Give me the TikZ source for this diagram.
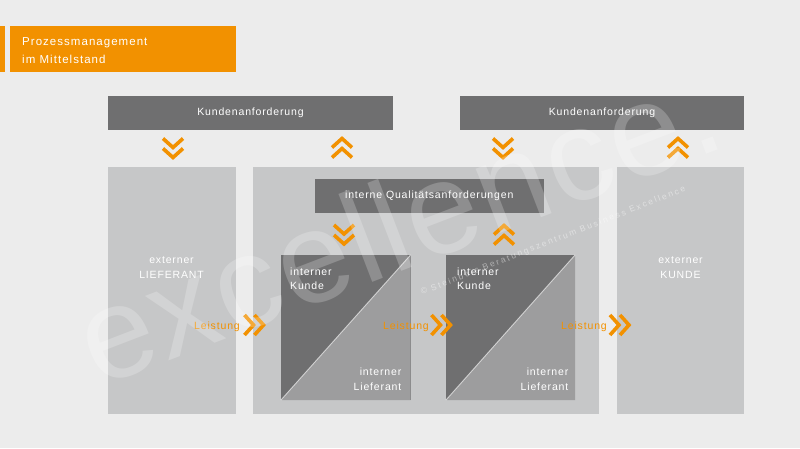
\documentclass[tikz,border=0pt]{standalone}
\usepackage{fontspec}
\setmainfont{Liberation Sans}
\newfontfamily\lblfont{Liberation Sans}[LetterSpace=8]
\newfontfamily\hdrfont{Liberation Sans}[LetterSpace=9]
\newfontfamily\wmfont{Liberation Sans}[LetterSpace=2]
\newfontfamily\cpfont{Liberation Sans}[LetterSpace=24]
\definecolor{bgc}{HTML}{ECECEC}
\definecolor{orng}{HTML}{F29100}
\definecolor{darkbar}{HTML}{6F6F70}
\definecolor{lightcol}{HTML}{C6C7C8}
\definecolor{lighttri}{HTML}{9D9D9E}
\tikzset{
  darkbox/.style={fill=darkbar, draw=none, inner sep=0pt, text=white, font=\lblfont\fontsize{10.5}{12}\selectfont},
  colbox/.style={fill=lightcol, draw=none, inner sep=0pt},
  sqbox/.style={fill=darkbar, draw=none, inner sep=0pt, minimum width=129.5pt, minimum height=145pt},
  lbl/.style={text=white, inner sep=0pt, font=\lblfont\fontsize{10.5}{12}\selectfont},
  leist/.style={text=orng, inner sep=0pt, anchor=base east, font=\lblfont\fontsize{10.5}{12}\selectfont},
  hdr/.style={text=white, inner sep=0pt, anchor=base west, font=\hdrfont\fontsize{11.5}{14}\selectfont},
  chevline/.style={draw=orng, line width=3.6pt, line join=miter, line cap=butt},
  chev/.pic={
    \draw[chevline] (-10,-10) -- (0,-1) -- (10,-10);
    \draw[chevline] (-10,0) -- (0,9) -- (10,0);
  }
}
\begin{document}
\begin{tikzpicture}[x=1pt,y=-1pt]
\useasboundingbox (0,0) rectangle (800,448);
\fill[bgc] (0,0) rectangle (800,448);

% header
\fill[orng] (0,26) rectangle (5,72);
\node[fill=orng, inner sep=0pt, minimum width=226pt, minimum height=46pt] (head) at (123,49) {};
\node[hdr] (h1) at (22,45) {Prozessmanagement};
\node[hdr] (h2) at (22,63) {im Mittelstand};

% top bars
\node[darkbox, minimum width=285pt, minimum height=34pt] (k1) at (250.5,113) {Kundenanforderung};
\node[darkbox, minimum width=284pt, minimum height=34pt] (k2) at (602,113) {Kundenanforderung};

% columns
\node[colbox, minimum width=128pt, minimum height=247pt] (lief) at (171.5,290.5) {};
\node[colbox, minimum width=346pt, minimum height=247pt] (mid) at (425.5,290.5) {};
\node[colbox, minimum width=127pt, minimum height=247pt] (kunde) at (680.5,290.5) {};

\node[lbl, anchor=base] (l1a) at (171.5,263) {externer};
\node[lbl, anchor=base] (l1b) at (171.5,278) {LIEFERANT};
\node[lbl, anchor=base] (k1a) at (680.5,263) {externer};
\node[lbl, anchor=base] (k1b) at (680.5,278) {KUNDE};

% inner bar
\node[darkbox, minimum width=229.5pt, minimum height=34pt] (qa) at (429.25,196) {interne Qualitätsanforderungen};

% squares
\node[sqbox] (sq1) at (345.75,327.5) {};
\node[sqbox, minimum width=129pt] (sq2) at (510.5,327.5) {};
\foreach \s in {sq1,sq2}{
  \fill[lighttri] (\s.north east) -- (\s.south east) -- (\s.south west) -- cycle;
  \draw[white, opacity=0.6, line width=0.9pt] (\s.south west) -- (\s.north east);
}
\node[lbl, anchor=base west] (s1a) at (290,275) {interner};
\node[lbl, anchor=base west] (s1b) at (290,289.5) {Kunde};
\node[lbl, anchor=base east] (s1c) at (401.5,375) {interner};
\node[lbl, anchor=base east] (s1d) at (401.5,390) {Lieferant};
\node[lbl, anchor=base west] (s2a) at (457,275) {interner};
\node[lbl, anchor=base west] (s2b) at (457,289.5) {Kunde};
\node[lbl, anchor=base east] (s2c) at (568.5,375) {interner};
\node[lbl, anchor=base east] (s2d) at (568.5,390) {Lieferant};

% vertical chevrons
\pic at (173,148.5) {chev};
\pic[rotate=180] at (342,147.5) {chev};
\pic at (503,148.5) {chev};
\pic[rotate=180] at (678,147.5) {chev};
\pic at (344,235) {chev};
\pic[rotate=180] at (504,234.5) {chev};

% Leistung
\node[leist] (le1) at (240,329) {Leistung};
\node[leist] (le2) at (429,329) {Leistung};
\node[leist] (le3) at (607,329) {Leistung};
\pic[rotate=90] at (254.5,325) {chev};
\pic[rotate=90] at (441.5,325) {chev};
\pic[rotate=90] at (620,325) {chev};

% watermarks
\node[inner sep=0pt, anchor=base west, rotate=21, text=white, text opacity=0.22,
      font=\wmfont\fontsize{130}{130}\selectfont] (wm) at (98,388) {excellence.};
\node[inner sep=0pt, anchor=base west, rotate=21.5, text=white, text opacity=0.45,
      font=\cpfont\fontsize{8.5}{10}\selectfont] (cp) at (422,295) {© Steinbeis Beratungszentrum Business Excellence};
\end{tikzpicture}
\end{document}
